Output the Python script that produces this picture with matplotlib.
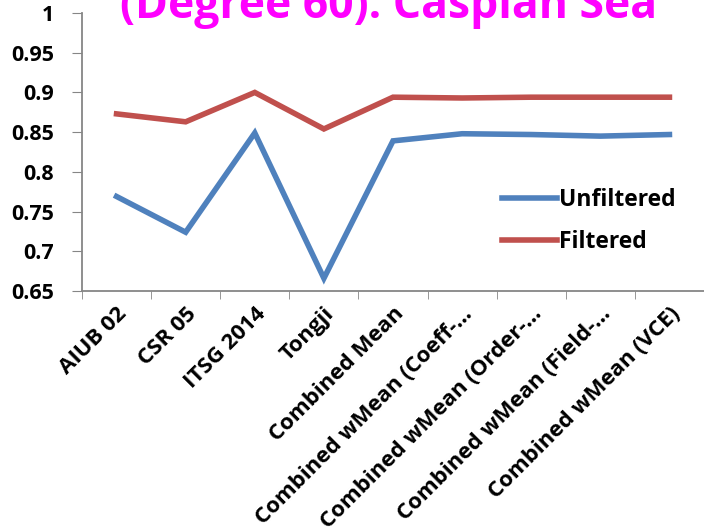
import numpy as np
import matplotlib
matplotlib.use('Agg')
import matplotlib.pyplot as plt

# Datos
categorias = ['AIUB 02', 'CSR 05', 'ITSG 2014', 'Tongji', 'Combined Mean',
              'Combined wMean (Coeff-…', 'Combined wMean (Order-…',
              'Combined wMean (Field-…', 'Combined wMean (VCE)']
unfiltered = [0.769, 0.724, 0.849, 0.666, 0.839, 0.848, 0.847, 0.845, 0.847]
filtered = [0.873, 0.863, 0.900, 0.854, 0.894, 0.893, 0.894, 0.894, 0.894]
y_ticks = [0.65, 0.7, 0.75, 0.8, 0.85, 0.9, 0.95, 1]
y_labels = ['0.65', '0.7', '0.75', '0.8', '0.85', '0.9', '0.95', '1']

plt.rcParams['font.family'] = ['Open Sans', 'DejaVu Sans']
plt.rcParams['font.weight'] = 'bold'

fig = plt.figure(figsize=(7.04, 5.30), dpi=100)
ax = fig.add_axes([82 / 704, 1 - 291 / 530, 1 - 82 / 704, (291 - 13) / 530])

x = np.arange(len(categorias))
ax.plot(x, unfiltered, color='#4F81BD', lw=4, label='Unfiltered', solid_joinstyle='miter')
ax.plot(x, filtered, color='#C0504D', lw=4, label='Filtered', solid_joinstyle='miter')

ax.set_xlim(-0.5, len(categorias) - 0.5)
ax.set_ylim(0.65, 1.0)
ax.set_yticks(y_ticks)
ax.set_yticklabels(y_labels, fontsize=15.5, fontweight='bold')
ax.set_xticks(x)
ax.set_xticklabels(categorias, rotation=45, ha='right', rotation_mode='anchor',
                   fontsize=16, fontweight='bold')
ax.set_xticks(np.arange(len(categorias) + 1) - 0.5, minor=True)
ax.tick_params(axis='x', which='major', length=0, pad=9)
ax.tick_params(axis='x', which='minor', length=6, color='#868686', direction='out')
ax.tick_params(axis='y', length=7, color='#868686', direction='out', pad=13)

for s in ['top', 'right']:
    ax.spines[s].set_visible(False)
for s in ['left', 'bottom']:
    ax.spines[s].set_color('#868686')
    ax.spines[s].set_linewidth(1.3)

leg = ax.legend(loc='upper left', bbox_to_anchor=((502 - 82) / 622, (291 - 188) / 278),
                frameon=False, prop={'weight': 'bold', 'size': 16.5}, handlelength=2.4,
                handletextpad=0.1, labelspacing=0.8, borderaxespad=0, borderpad=0)

fig.text(389 / 704, 1 - 18 / 530, '(Degree 60): Caspian Sea', color='#FF00FF',
         fontsize=32, fontweight='bold', ha='center', va='baseline')

plt.savefig('out.png', dpi=100)
